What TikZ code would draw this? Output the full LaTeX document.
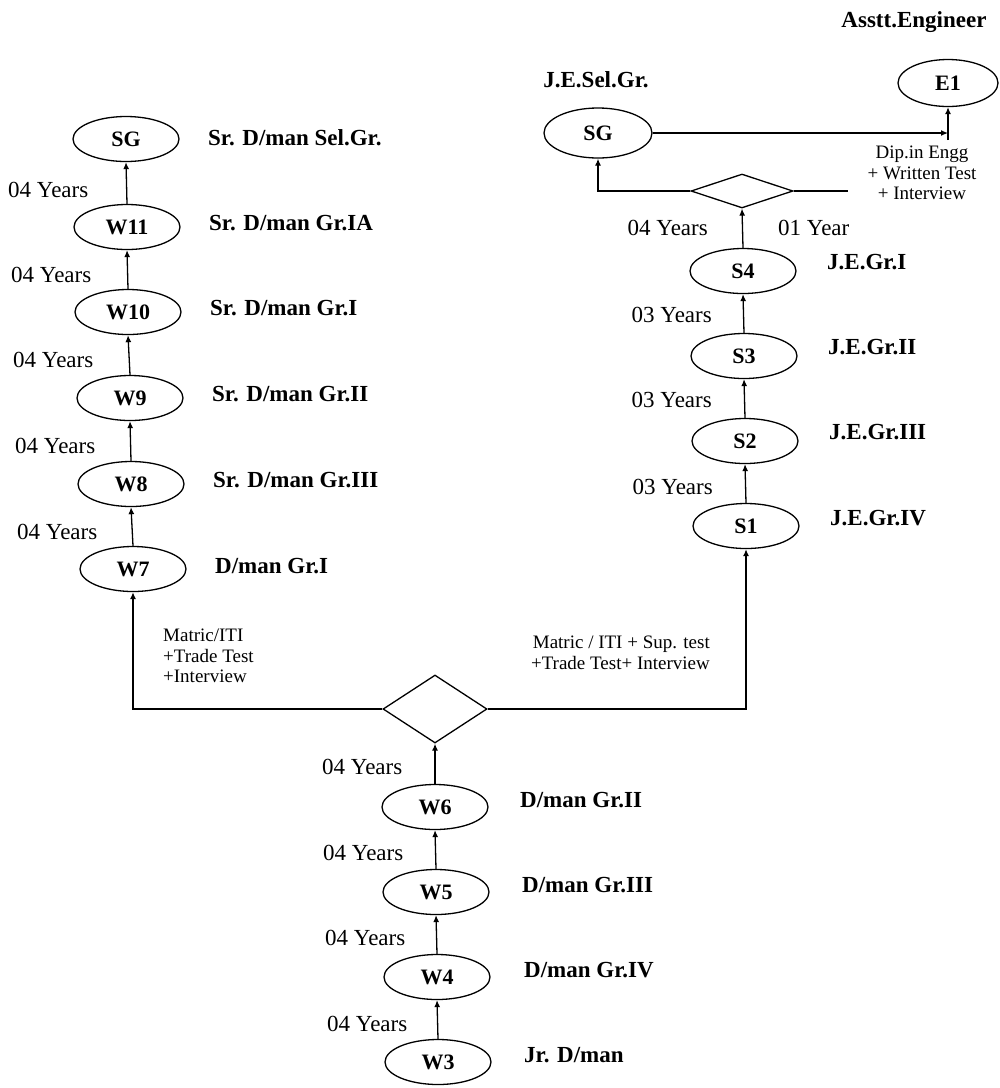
\documentclass[tikz,border=0pt]{standalone}
\usepackage{fontspec}
\setmainfont{Liberation Serif}
\usetikzlibrary{shapes.geometric,arrows.meta}
\begin{document}
\begin{tikzpicture}[x=1pt,y=-1pt,
  grade/.style={ellipse,draw,line width=1.3pt,minimum width=106pt,minimum height=45pt,inner sep=0pt,font=\bfseries\fontsize{22}{26}\selectfont},
  lbl/.style={anchor=west,font=\bfseries\fontsize{23}{27}\selectfont,inner sep=0pt},
  yrs/.style={font=\fontsize{23}{27}\selectfont,inner sep=0pt},
  cond/.style={font=\fontsize{19}{20.5}\selectfont,inner sep=0pt},
  dec/.style={diamond,draw,line width=1.3pt,inner sep=0pt},
  link/.style={line width=1.3pt},
  up/.style={link,-{Latex[length=7pt,width=6pt]}},
]
\useasboundingbox (0,0) rectangle (1000,1088);

% ---------- left column ----------
\node[grade] (lsg) at (126,139) {SG};
\node[grade] (w11) at (127,227) {W11};
\node[grade] (w10) at (128,312) {W10};
\node[grade] (w9)  at (130,398) {W9};
\node[grade] (w8)  at (131,484) {W8};
\node[grade] (w7)  at (133,569) {W7};
\draw[up] (w11.north) -- (lsg.south);
\draw[up] (w10.north) -- (w11.south);
\draw[up] (w9.north) -- (w10.south);
\draw[up] (w8.north) -- (w9.south);
\draw[up] (w7.north) -- (w8.south);

\node[lbl] (tlsg) at (208,138) {Sr. D/man Sel.Gr.};
\node[lbl] (tw11) at (209,223) {Sr. D/man Gr.IA};
\node[lbl] (tw10) at (210,308) {Sr. D/man Gr.I};
\node[lbl] (tw9)  at (212,394) {Sr. D/man Gr.II};
\node[lbl] (tw8)  at (213,480) {Sr. D/man Gr.III};
\node[lbl] (tw7)  at (215,566) {D/man Gr.I};

\node[yrs,anchor=west] (yl1) at (8,190) {04 Years};
\node[yrs,anchor=west] (yl2) at (11,275) {04 Years};
\node[yrs,anchor=west] (yl3) at (13,360) {04 Years};
\node[yrs,anchor=west] (yl4) at (15,446) {04 Years};
\node[yrs,anchor=west] (yl5) at (17,532) {04 Years};

% ---------- bottom column ----------
\node[grade] (w6) at (435,807) {W6};
\node[grade] (w5) at (436,892) {W5};
\node[grade] (w4) at (437,977) {W4};
\node[grade] (w3) at (438,1062) {W3};
\draw[up] (w5.north) -- (w6.south);
\draw[up] (w4.north) -- (w5.south);
\draw[up] (w3.north) -- (w4.south);

\node[lbl] (tw6) at (520,800) {D/man Gr.II};
\node[lbl] (tw5) at (522,885) {D/man Gr.III};
\node[lbl] (tw4) at (524,970) {D/man Gr.IV};
\node[lbl] (tw3) at (524,1055) {Jr. D/man};

\node[yrs,anchor=west] (yb1) at (322,767) {04 Years};
\node[yrs,anchor=west] (yb2) at (323,853) {04 Years};
\node[yrs,anchor=west] (yb3) at (325,938) {04 Years};
\node[yrs,anchor=west] (yb4) at (327,1024) {04 Years};

% ---------- right column ----------
\node[grade] (s1) at (746,526) {S1};
\node[grade] (s2) at (745,441) {S2};
\node[grade] (s3) at (744,356) {S3};
\node[grade] (s4) at (743,271) {S4};
\draw[up] (s1.north) -- (s2.south);
\draw[up] (s2.north) -- (s3.south);
\draw[up] (s3.north) -- (s4.south);

\node[lbl] (ts4) at (827,262) {J.E.Gr.I};
\node[lbl] (ts3) at (828,347) {J.E.Gr.II};
\node[lbl] (ts2) at (829,432) {J.E.Gr.III};
\node[lbl] (ts1) at (830,518) {J.E.Gr.IV};

\node[yrs,anchor=east] (yr1) at (712,315) {03 Years};
\node[yrs,anchor=east] (yr2) at (712,400) {03 Years};
\node[yrs,anchor=east] (yr3) at (713,487) {03 Years};
\node[yrs,anchor=east] (yr4) at (708,228) {04 Years};
\node[yrs,anchor=west] (yr5) at (778,228) {01 Year};

% ---------- bottom decision ----------
\node[dec,minimum width=104pt,minimum height=68pt] (d1) at (435,709) {};
\draw[up] (w6.north) -- (d1.south);
\draw[up] (d1.west) -- (w7.south |- d1.west) -- (w7.south);
\draw[up] (d1.east) -- (s1.south |- d1.east) -- (s1.south);
\node[cond,anchor=west,align=left] (c1) at (163,656) {Matric/ITI\\+Trade Test\\+Interview};
\node[cond,anchor=east,align=right] (c2) at (710,653) {Matric / ITI + Sup. test\\+Trade Test+ Interview};

% ---------- top decision ----------
\node[dec,minimum width=102pt,minimum height=34pt] (d2) at (742,191) {};
\node[grade,minimum width=108pt,minimum height=50pt] (rsg) at (598,133) {SG};
\node[lbl,anchor=center] (trsg) at (596,80) {J.E.Sel.Gr.};
\draw[up] (s4.north) -- (d2.south);
\draw[up] (d2.west) -- (rsg.south |- d2.west) -- (rsg.south);
\coordinate (dend) at (848,191);
\draw[link] (d2.east) -- (dend);

\node[grade,minimum width=100pt,minimum height=47pt] (e1) at (948,83) {E1};
\node[lbl,anchor=center] (te1) at (914,22) {Asstt.Engineer};
\coordinate (ej) at (e1.south |- rsg.east);
\draw[up] (rsg.east) -- (ej);
\coordinate (ebot) at (948,140);
\draw[up] (ebot) -- (e1.south);
\node[cond,align=center] (dip) at (922,173) {Dip.in Engg\\+ Written Test\\+ Interview};
\end{tikzpicture}
\end{document}
